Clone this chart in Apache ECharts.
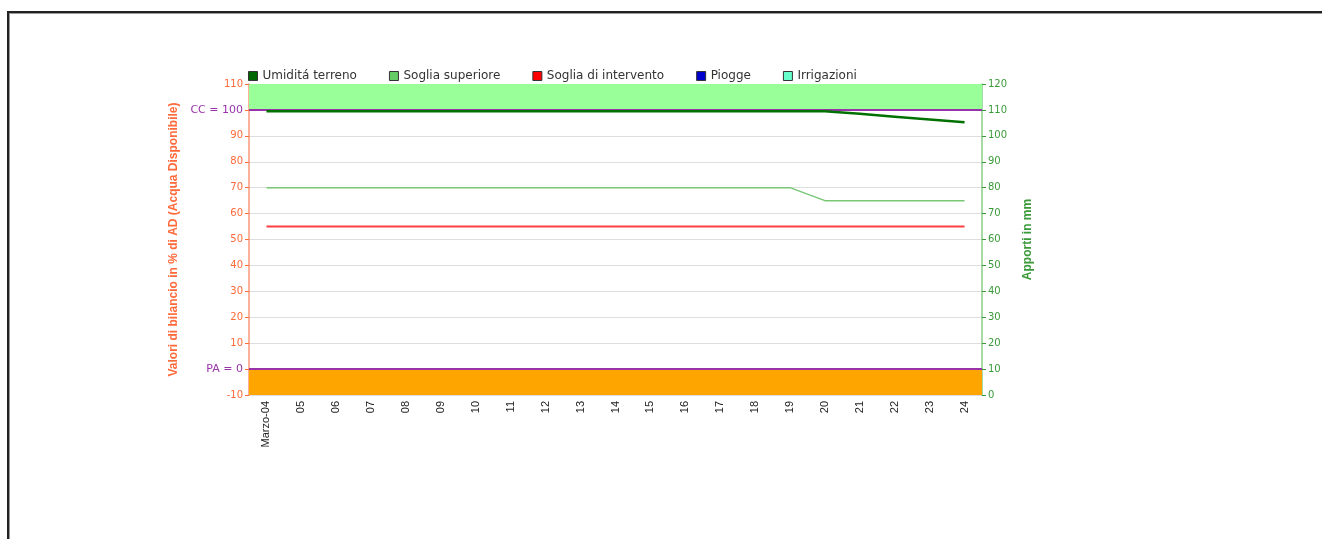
<!DOCTYPE html>
<html>
<head>
<meta charset="utf-8">
<script src="https://cdn.jsdelivr.net/npm/echarts@6/dist/echarts.min.js"></script>
<style>
html,body{margin:0;padding:0;overflow:hidden;background:#fff;}
#frame{position:absolute;left:7px;top:11px;width:1400px;height:700px;border-top:2px solid #222;border-left:2px solid #222;box-shadow:inset 1px 1px 0 #999;}
#chart{position:absolute;left:0;top:0;width:1322px;height:539px;}
</style>
</head>
<body>
<div id="frame"></div>
<div id="chart"></div>
<script>
const categories = ['Marzo-04','05','06','07','08','09','10','11','12','13','14','15','16','17','18','19','20','21','22','23','24'];
const umidita = [99.5,99.5,99.5,99.5,99.5,99.5,99.5,99.5,99.5,99.5,99.5,99.5,99.5,99.5,99.5,99.5,99.5,98.5,97.4,96.3,95.2];
const sogliaSuperiore = [70,70,70,70,70,70,70,70,70,70,70,70,70,70,70,70,65,65,65,65,65];
const sogliaIntervento = [55,55,55,55,55,55,55,55,55,55,55,55,55,55,55,55,55,55,55,55,55];
const piogge = [0,0,0,0,0,0,0,0,0,0,0,0,0,0,0,0,0,0,0,0,0];
const irrigazioni = [0,0,0,0,0,0,0,0,0,0,0,0,0,0,0,0,0,0,0,0,0];

const chart = echarts.init(document.getElementById('chart'), null, {renderer:'canvas'});
const orange = '#ff6a3a';
const green = '#3a9a3a';
const purple = '#9933aa';

chart.setOption({
  animation:false,
  textStyle:{fontFamily:'Liberation Sans, Arial, sans-serif'},
  legend:{
    left:243, top:65, itemWidth:9, itemHeight:9, itemGap:32, icon:'rect',
    textStyle:{fontFamily:'DejaVu Sans, Verdana, sans-serif', fontSize:12, color:'#333'},
    data:[
      {name:'Umiditá terreno', itemStyle:{color:'#006600', borderColor:'#333', borderWidth:1}},
      {name:'Soglia superiore', itemStyle:{color:'#66cc66', borderColor:'#333', borderWidth:1}},
      {name:'Soglia di intervento', itemStyle:{color:'#ff0000', borderColor:'#333', borderWidth:1}},
      {name:'Piogge', itemStyle:{color:'#0000cc', borderColor:'#333', borderWidth:1}},
      {name:'Irrigazioni', itemStyle:{color:'#66ffcc', borderColor:'#333', borderWidth:1}}
    ]
  },
  grid:{left:249, right:340, top:84, bottom:144, containLabel:false},
  xAxis:{
    type:'category', data:categories, boundaryGap:true,
    axisLine:{lineStyle:{color:'#555', width:1}},
    axisTick:{alignWithLabel:true, length:4, lineStyle:{color:'#555'}},
    axisLabel:{rotate:90, fontSize:11, color:'#222', interval:0, margin:6}
  },
  yAxis:[
    {
      type:'value', min:-10, max:110, interval:10, position:'left',
      name:'Valori di bilancio in % di AD (Acqua Disponibile)', nameLocation:'middle', nameGap:67,
      nameTextStyle:{color:orange, fontWeight:'bold', fontSize:12},
      axisLine:{show:true, lineStyle:{color:'#ff9977', width:1.5}},
      axisTick:{show:true, length:4, lineStyle:{color:orange}},
      splitLine:{lineStyle:{color:'#dddddd', width:1}},
      axisLabel:{
        fontSize:10, color:orange, margin:6, fontFamily:'DejaVu Sans, Verdana, sans-serif',
        formatter:function(v){ if(v===100) return '{p|CC = 100}'; if(v===0) return '{p|PA = 0}'; return String(v); },
        rich:{p:{color:purple, fontSize:11, fontFamily:'DejaVu Sans, Verdana, sans-serif'}}
      }
    },
    {
      type:'value', min:0, max:120, interval:10, position:'right',
      name:'Apporti in mm', nameLocation:'middle', nameGap:40, nameRotate:90,
      nameTextStyle:{color:green, fontWeight:'bold', fontSize:12},
      axisLine:{show:true, lineStyle:{color:'#88cc88', width:1.5}},
      axisTick:{show:true, length:4, lineStyle:{color:green}},
      splitLine:{show:false},
      axisLabel:{fontSize:10, color:green, margin:6, fontFamily:'DejaVu Sans, Verdana, sans-serif'}
    }
  ],
  series:[
    {
      name:'Umiditá terreno', type:'line', yAxisIndex:0, data:umidita, symbol:'none', z:5,
      lineStyle:{color:'#007000', width:2.5}, itemStyle:{color:'#006600'},
      markArea:{silent:true, data:[
        [{yAxis:100, itemStyle:{color:'#99ff99'}},{yAxis:110}],
        [{yAxis:-10, itemStyle:{color:'#ffa500'}},{yAxis:0}]
      ]},
      markLine:{silent:true, symbol:'none', label:{show:false},
        lineStyle:{color:purple, type:'solid', width:2},
        data:[{yAxis:100},{yAxis:0}]}
    },
    {
      name:'Soglia superiore', type:'line', yAxisIndex:0, data:sogliaSuperiore, symbol:'none',
      lineStyle:{color:'#77c777', width:1.5}, itemStyle:{color:'#66cc66'}
    },
    {
      name:'Soglia di intervento', type:'line', yAxisIndex:0, data:sogliaIntervento, symbol:'none',
      lineStyle:{color:'#ff4040', width:2}, itemStyle:{color:'#ff0000'}
    },
    {name:'Piogge', type:'bar', yAxisIndex:1, data:piogge, itemStyle:{color:'#0000cc'}},
    {name:'Irrigazioni', type:'bar', yAxisIndex:1, data:irrigazioni, itemStyle:{color:'#66ffcc'}}
  ]
});
</script>
</body>
</html>
